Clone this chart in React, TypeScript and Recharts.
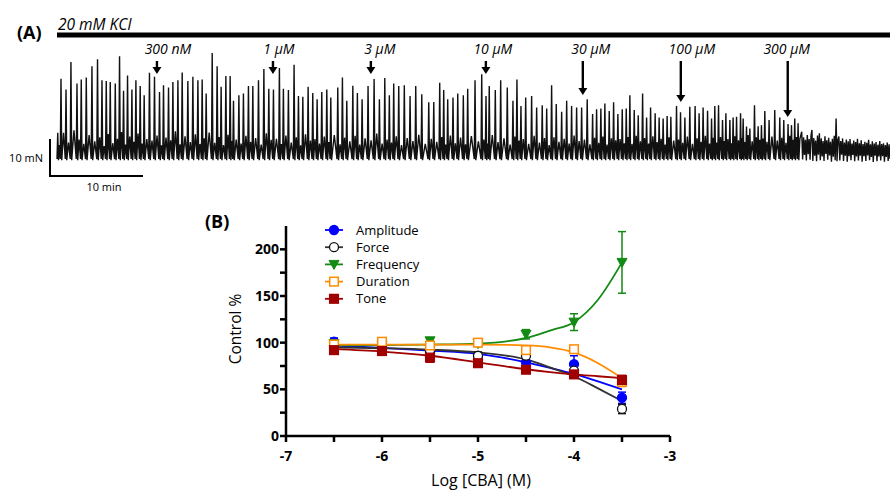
import React from 'react';
import { LineChart, Line, XAxis, YAxis, ComposedChart, Scatter, ErrorBar } from 'recharts';

// ---- panel A: isometric tension trace (time in min, force in mN) ----
const spikeTimes = [
  0.05, 0.4, 0.94, 1.47, 2.12, 2.58, 3.12, 3.73, 4.33, 4.81,
  5.27, 5.7, 6.24, 6.7, 7.13, 7.56, 8.03, 8.46, 8.92, 9.35,
  9.92, 10.46, 11.0, 11.43, 11.97, 12.44, 12.98, 13.44, 14.05, 14.59,
  15.13, 15.59, 16.02, 16.67, 17.2, 17.63, 18.14, 18.6, 18.96, 19.54,
  20.03, 20.57, 21.04, 21.65, 22.23, 22.76, 23.26, 23.9, 24.33, 24.87,
  25.48, 25.95, 26.42, 26.99, 27.49, 27.96, 28.46, 29.0, 29.43, 30.18,
  30.68, 31.15, 31.8, 32.29, 32.8, 33.44, 34.09, 34.66, 35.24, 35.73,
  36.2, 36.74, 37.34, 37.96, 38.57, 39.22, 39.97, 40.51, 41.15, 41.58,
  42.01, 42.58, 43.09, 43.69, 44.16, 44.95, 45.67, 46.13, 46.48, 47.13,
  47.71, 48.42, 49.03, 49.46, 49.89, 50.4, 51.04, 51.58, 52.18, 52.66,
  53.19, 53.69, 54.27, 54.81, 55.34, 55.88, 56.42, 57.02, 57.6, 58.03,
  58.49, 58.92, 59.39, 59.86, 60.32, 60.79, 61.22, 61.61, 62.08, 62.51,
  62.98, 63.41, 63.84, 64.33, 64.76, 65.19, 65.62, 66.02, 66.63, 67.06,
  67.53, 68.06, 68.63, 69.06, 69.49, 69.97, 70.4, 70.75, 71.15, 71.58,
  71.94, 72.37, 72.72, 73.09, 73.52, 73.8, 74.16, 74.52, 75.02, 75.41,
  75.77, 76.13, 76.59, 77.2, 77.74, 78.17, 78.63, 79.0, 79.35, 79.71,
];
const spikePeaks = [
  6.8, 21.5, 18.6, 26.0, 20.2, 21.3, 21.8, 24.9, 26.8, 21.1,
  20.9, 20.6, 20.2, 27.6, 18.2, 22.4, 18.6, 21.1, 19.5, 17.0,
  23.1, 22.0, 17.9, 19.7, 19.1, 20.6, 21.1, 23.2, 20.9, 22.0,
  21.1, 21.3, 17.5, 28.5, 24.9, 19.3, 22.2, 22.2, 15.5, 17.0,
  17.5, 19.5, 19.5, 21.1, 24.1, 18.8, 18.6, 24.4, 18.8, 18.4,
  25.3, 16.8, 16.6, 19.3, 17.6, 15.9, 17.9, 18.6, 16.4, 19.1,
  21.8, 15.5, 19.6, 17.6, 15.9, 19.5, 21.4, 15.9, 21.7, 17.0,
  20.2, 19.5, 19.7, 16.8, 19.5, 17.3, 15.1, 15.2, 20.4, 18.4,
  15.9, 16.4, 17.5, 17.0, 18.8, 21.1, 22.7, 16.8, 19.5, 18.4,
  21.1, 19.1, 15.5, 21.3, 14.1, 16.4, 16.8, 13.7, 14.3, 13.4,
  19.7, 14.6, 12.5, 15.5, 14.1, 13.7, 13.7, 15.9, 11.9, 13.2,
  13.4, 14.8, 12.7, 15.1, 11.9, 13.2, 13.4, 17.0, 13.0, 11.6,
  17.5, 11.0, 13.7, 12.1, 11.0, 10.7, 11.4, 11.2, 14.1, 12.4,
  11.0, 13.9, 14.1, 12.1, 13.7, 12.8, 10.7, 14.1, 14.3, 10.3,
  12.1, 10.3, 11.0, 11.2, 12.1, 10.7, 8.5, 8.0, 14.3, 8.6,
  8.9, 12.7, 10.3, 13.0, 11.0, 10.3, 9.2, 8.9, 10.7, 9.4,
];
// small contractions seen between the large spikes
const gapBumps = [
  3.5, 6.8, 4.2, 7.5, 5.0, 3.8, 6.2, 4.5, 5.6, 3.2,
  6.5, 4.0, 5.2, 7.0, 3.6, 5.8, 4.4, 6.6, 3.9, 5.1,
  4.7, 6.1, 3.4, 5.5, 4.8, 7.2, 3.7, 5.9, 4.3, 6.4,
  3.8, 5.3, 6.9, 4.1, 5.7, 3.5, 6.3, 4.6, 5.0, 3.9,
  6.0, 4.4, 5.4, 3.6, 6.7, 4.9, 5.2, 3.8, 6.1, 4.2,
  5.6, 3.4, 6.4, 4.7, 5.1, 3.9, 5.8, 4.3, 6.2, 3.7,
  5.5, 4.5, 6.0, 3.6, 5.3, 4.8, 6.6, 3.9, 5.0, 4.2,
  5.9, 3.5, 5.4, 4.6, 6.3, 3.8, 5.2, 4.4, 5.7, 3.6,
  6.1, 4.0, 5.5, 3.7, 5.9, 4.5, 5.0, 3.9, 6.2, 4.3,
  5.3, 3.6, 5.8, 4.7, 5.1, 3.8, 6.0, 4.2, 5.4, 3.5,
  5.6, 4.4, 5.2, 3.9, 6.1, 4.6, 5.0, 3.7, 5.5, 4.1,
  5.8, 3.6, 5.3, 4.8, 5.1, 4.0, 5.7, 3.8, 6.0, 4.5,
  5.4, 3.9, 5.9, 4.3, 5.2, 3.6, 5.6, 4.7, 5.0, 4.1,
  5.8, 3.8, 5.3, 4.4, 6.0, 3.9, 5.5, 4.2, 5.7, 4.6,
  5.1, 4.0, 5.9, 4.8, 5.4, 4.3, 6.2, 4.5, 5.6, 4.9,
  5.3, 4.4, 5.8, 4.7, 5.5, 4.1, 6.0, 4.9, 5.7, 5.2,
];
// dense irregular activity after 300 µM
const tailStart = 80.1;
const tailStep = 0.1;
const tailValues = [
  7.1, -0.4, 5.6, 0.8, 4.9, -0.7, 6.2, 1.0, 5.1, -0.5,
  6.0, 7.6, -0.8, 5.4, 0.6, 4.7, -0.9, 6.1, 0.9, 6.7,
  -0.6, 5.3, 0.4, 4.6, -0.8, 5.9, 1.1, 4.8, -0.5, 5.5,
  0.7, 4.4, -1.0, 5.2, 0.3, 6.0, -0.6, 10.7, -0.9, 5.0,
  5.8, -0.7, 4.6, 0.9, 5.3, -0.8, 4.2, 0.6, 5.0, -1.0,
  4.5, 0.5, 5.1, -0.6, 3.9, 0.8, 4.7, -0.9, 4.3, 0.4,
  5.2, -0.7, 4.0, 0.6, 4.8, -1.0, 3.8, 0.5, 4.4, -0.8,
  4.1, 0.7, 4.9, -0.6, 3.7, 0.3, 4.5, -1.1, 3.9, 0.6,
  4.3, -0.9, 3.6, 0.4, 4.6, -0.7, 3.8, 0.5, 4.0, -1.0,
  3.5, 0.3, 4.2, -0.8, 3.7, -0.3,
];

const doseLabels = ['300 nM', '1 µM', '3 µM', '10 µM', '30 µM', '100 µM', '300 µM'];
const doseTimes = [10.75, 23.23, 33.76, 46.13, 56.56, 67.1, 78.6];
const arrowTipY = [74, 74, 74, 74, 95, 102, 117];
const labelDx = [11, 6, 9, 7, 8, 11, -1];

const traceRows: { t: number; v: number }[] = [];
spikeTimes.forEach((t, i) => {
  const next = i < spikeTimes.length - 1 ? spikeTimes[i + 1] : tailStart;
  traceRows.push({ t: t - 0.08, v: -0.3 });
  traceRows.push({ t, v: spikePeaks[i] });
  traceRows.push({ t: t + 0.08, v: -0.6 });
  traceRows.push({ t: (t + next) / 2, v: gapBumps[i] });
});
tailValues.forEach((v, i) => traceRows.push({ t: tailStart + i * tailStep, v }));

// trace pixel mapping (same as the LineChart below)
const traceLeft = 57;
const pxPerMin = 833 / 89.6;

// ---- panel B: concentration-response ----
const logConc = [-6.5, -6, -5.5, -5, -4.5, -4, -3.5];
const amplitude = [101, 95, 89, 82, 79, 77, 41];
const amplitudeErr = [4, 4, 4, 4, 6, 9, 6];
const force = [97, 96, 92, 86, 86, 70, 29];
const forceErr = [3, 3, 4, 4, 6, 6, 5];
const frequency = [99, 97, 102, 99, 109, 122, 186];
const frequencyErr = [3, 3, 3, 3, 5, 9, 33];
const duration = [98, 101, 97, 100, 92, 93, 58];
const durationErr = [2, 3, 2, 3, 3, 3, 5];
const tone = [92, 91, 84, 78, 71, 66, 60];
const toneErr = [3, 4, 5, 3, 3, 3, 5];

const fitConc = [-6.5, -6, -5.5, -5, -4.5, -4.25, -4, -3.75, -3.5];
const amplitudeFit = [97, 94.5, 91.5, 88, 79, 73, 66.5, 58.5, 50];
const forceFit = [95, 94, 92.5, 89.5, 82, 73.5, 64, 51, 37.5];
const frequencyFit = [97, 97.5, 98, 99, 105, 113, 122, 146, 186];
const durationFit = [98, 98, 98, 98, 97, 95, 89.5, 78, 62];
const toneFit = [93, 90.5, 86, 79, 71.5, 68.5, 66, 64, 62];

type Kind = 'circle' | 'triangle' | 'square';

const series = [
  { name: 'Amplitude', mean: amplitude, err: amplitudeErr, fit: amplitudeFit, color: '#0000ff', line: '#0000ff', kind: 'circle' as Kind, open: false },
  { name: 'Force', mean: force, err: forceErr, fit: forceFit, color: '#111111', line: '#333333', kind: 'circle' as Kind, open: true },
  { name: 'Frequency', mean: frequency, err: frequencyErr, fit: frequencyFit, color: '#138a13', line: '#138a13', kind: 'triangle' as Kind, open: false },
  { name: 'Duration', mean: duration, err: durationErr, fit: durationFit, color: '#ff8c00', line: '#ff8c00', kind: 'square' as Kind, open: true },
  { name: 'Tone', mean: tone, err: toneErr, fit: toneFit, color: '#a00000', line: '#a00000', kind: 'square' as Kind, open: false },
];

const font = '"Open Sans", sans-serif';

function Marker({ kind, cx, cy, color, open }: { kind: Kind; cx: number; cy: number; color: string; open: boolean }) {
  const fill = open ? '#fff' : color;
  if (kind === 'circle') return <circle cx={cx} cy={cy} r={4.5} fill={fill} stroke={color} strokeWidth={1.3} />;
  if (kind === 'square') return <rect x={cx - 4.3} y={cy - 4.3} width={8.6} height={8.6} fill={fill} stroke={color} strokeWidth={1.5} />;
  return <polygon points={`${cx - 5},${cy - 4} ${cx + 5},${cy - 4} ${cx},${cy + 5}`} fill={fill} stroke={color} strokeWidth={1} />;
}

const YTick = ({ x, y, payload }: any) =>
  payload.value % 50 === 0 ? (
    <text x={x} y={y} dy="0.35em" textAnchor="end" fontFamily={font} fontSize={14} fontWeight={700} fill="#000">
      {payload.value}
    </text>
  ) : (
    <g />
  );

const XTick = ({ x, y, payload }: any) =>
  Number.isInteger(payload.value) ? (
    <text x={x} y={y} dy="0.71em" textAnchor="middle" fontFamily={font} fontSize={14} fontWeight={700} fill="#000">
      {payload.value}
    </text>
  ) : (
    <g />
  );

function Arrow({ x, y1, y2 }: { x: number; y1: number; y2: number }) {
  return (
    <g>
      <line x1={x} y1={y1} x2={x} y2={y2 - 6} stroke="#000" strokeWidth={2.4} />
      <polygon points={`${x - 4.5},${y2 - 7} ${x + 4.5},${y2 - 7} ${x},${y2}`} fill="#000" />
    </g>
  );
}

export default function App() {
  return (
    <div style={{ position: 'absolute', left: 0, top: 0, width: 890, height: 490, background: '#fff', fontFamily: font }}>
      <div style={{ position: 'absolute', left: 0, top: 0 }}>
        <LineChart width={890} height={200} data={traceRows} margin={{ top: 40, right: 0, bottom: 31, left: 57 }}>
          <XAxis type="number" dataKey="t" domain={[0, 89.6]} hide />
          <YAxis type="number" domain={[-3, 32]} hide allowDataOverflow />
          <Line type="linear" dataKey="v" stroke="#111" strokeWidth={1.4} dot={false} isAnimationActive={false} />
        </LineChart>
      </div>

      <div style={{ position: 'absolute', left: 0, top: 190 }}>
        <ComposedChart width={890} height={300} margin={{ top: 36, right: 220, bottom: 24, left: 226 }}>
          <XAxis
            type="number"
            dataKey="x"
            domain={[-7, -3]}
            ticks={[-7, -6.5, -6, -5.5, -5, -4.5, -4, -3.5, -3]}
            height={30}
            tickSize={6}
            tickMargin={9}
            axisLine={{ stroke: '#000', strokeWidth: 2.5 }}
            tickLine={{ stroke: '#000', strokeWidth: 2.5 }}
            tick={<XTick />}
          />
          <YAxis
            type="number"
            dataKey="y"
            domain={[0, 225]}
            ticks={[0, 25, 50, 75, 100, 125, 150, 175, 200]}
            width={60}
            tickSize={6}
            tickMargin={1}
            axisLine={{ stroke: '#000', strokeWidth: 2.5 }}
            tickLine={{ stroke: '#000', strokeWidth: 2.5 }}
            tick={<YTick />}
          />
          {series.map((s) => (
            <Line
              key={s.name + '-fit'}
              data={fitConc.map((x, i) => ({ x, y: s.fit[i] }))}
              dataKey="y"
              type="monotone"
              stroke={s.line}
              strokeWidth={1.8}
              dot={false}
              isAnimationActive={false}
            />
          ))}
          {series.map((s) => (
            <Scatter
              key={s.name}
              data={logConc.map((x, i) => ({ x, y: s.mean[i], e: s.err[i] }))}
              isAnimationActive={false}
              shape={(p: any) => <Marker kind={s.kind} cx={p.cx} cy={p.cy} color={s.color} open={s.open} />}
            >
              <ErrorBar dataKey="e" direction="y" width={4} stroke={s.color} strokeWidth={1.5} />
            </Scatter>
          ))}
        </ComposedChart>
      </div>

      <svg width={890} height={490} style={{ position: 'absolute', left: 0, top: 0, pointerEvents: 'none' }} fontFamily={font}>
        {/* panel A annotations */}
        <text x={17} y={39} fontSize={18} fontWeight={700}>(A)</text>
        <text x={58} y={30} fontSize={15.5} fontStyle="italic">20 mM KCl</text>
        <rect x={57} y={32.5} width={833} height={5} fill="#000" />
        {doseLabels.map((lab, i) => {
          const x = traceLeft + doseTimes[i] * pxPerMin;
          return (
            <g key={lab}>
              <text x={x + labelDx[i]} y={54} fontSize={14} fontStyle="italic" textAnchor="middle">{lab}</text>
              <Arrow x={x} y1={61} y2={arrowTipY[i]} />
            </g>
          );
        })}
        <line x1={50} y1={139} x2={50} y2={177} stroke="#000" strokeWidth={2} />
        <line x1={49} y1={176} x2={143} y2={176} stroke="#000" strokeWidth={2} />
        <text x={43} y={162} fontSize={11} textAnchor="end">10 mN</text>
        <text x={104} y={191} fontSize={11} textAnchor="middle">10 min</text>

        {/* panel B annotations */}
        <text x={205} y={228} fontSize={18} fontWeight={700}>(B)</text>
        <text x={241} y={329} fontSize={15.5} textAnchor="middle" transform="rotate(-90 241 329)">Control %</text>
        <text x={481} y={486} fontSize={16} textAnchor="middle">Log [CBA] (M)</text>
        {series.map((s, i) => {
          const cy = 230 + i * 17.2;
          return (
            <g key={s.name + '-legend'}>
              <line x1={325} y1={cy} x2={343} y2={cy} stroke={s.line} strokeWidth={1.8} />
              <Marker kind={s.kind} cx={334} cy={cy} color={s.color} open={s.open} />
              <text x={356} y={cy} dy="0.35em" fontSize={13}>{s.name}</text>
            </g>
          );
        })}
      </svg>
    </div>
  );
}
